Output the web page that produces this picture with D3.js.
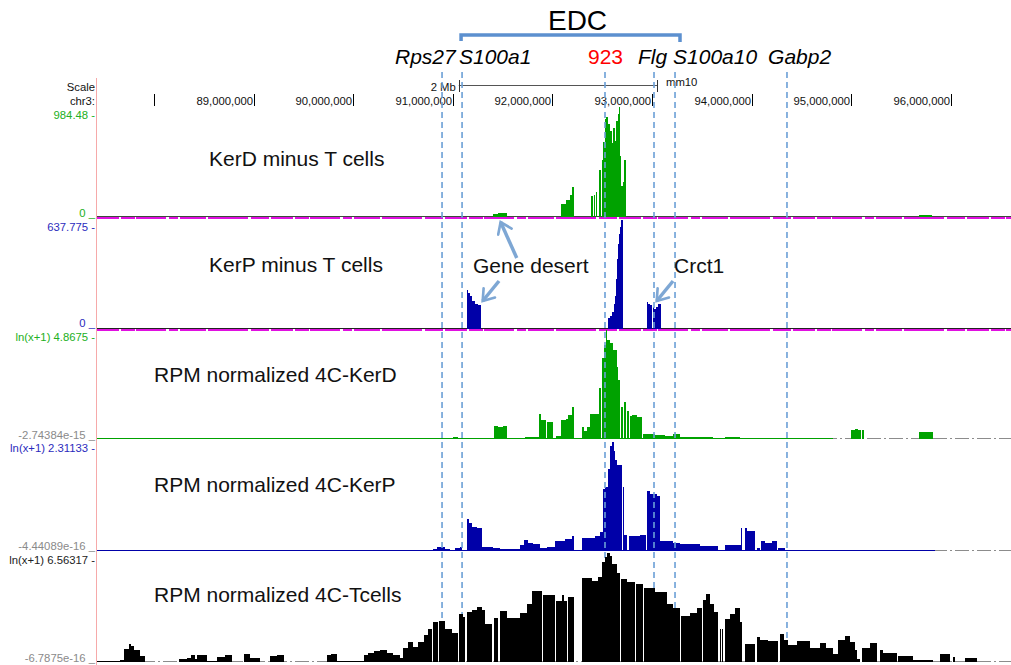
<!DOCTYPE html>
<html>
<head>
<meta charset="utf-8">
<script src="https://cdn.jsdelivr.net/npm/d3@7"></script>
<style>
body { margin: 0; background: #fff; }
svg { display: block; font-family: "Liberation Sans", Arial, Helvetica, sans-serif; }
</style>
</head>
<body>
<div id="graphic"></div>
<script>
// chr3 window shown (Mb)
var viewMb = [87.428, 96.604];
var tickMb = [88, 89, 90, 91, 92, 93, 94, 95, 96];
var tickLabels = ["", "89,000,000", "90,000,000", "91,000,000", "92,000,000",
                  "93,000,000", "94,000,000", "95,000,000", "96,000,000"];

// gene marks (dashed lines) and their labels
var geneNames   = ["Rps27", "S100a1", "923", "Flg", "S100a10", "Gabp2"];
var geneMb      = [90.892, 91.093, 92.528, 93.020, 93.231, 94.355];
var geneLabelMb = [90.420, 91.062, 92.357, 92.859, 93.211, 94.165];
var edcMb = [91.083, 93.281];
var scaleBarMb = [91.06, 93.05];

// [start Mb, end Mb, value]
var kerDMinusT = [
  [91.404,91.454,27],[91.454,91.504,36],[91.504,91.544,32],
  [92.086,92.137,117],[92.137,92.177,154],[92.177,92.197,199],[92.197,92.217,271],
  [92.388,92.408,190],[92.413,92.428,199],[92.438,92.448,226],[92.468,92.488,425],[92.493,92.508,506],
  [92.508,92.523,668],[92.523,92.538,876],[92.538,92.558,894],[92.558,92.578,831],[92.578,92.598,768],
  [92.598,92.613,659],[92.613,92.628,795],[92.628,92.643,677],[92.643,92.658,858],[92.658,92.668,921],
  [92.668,92.678,984],[92.678,92.688,542],[92.688,92.709,280],[92.709,92.719,316],[92.719,92.739,506],
  [95.681,95.812,18]
];
var kerPMinusT = [
  [91.143,91.153,228],[91.153,91.173,211],[91.173,91.193,193],[91.193,91.223,164],[91.223,91.253,146],[91.253,91.283,140],
  [92.558,92.578,64],[92.578,92.598,76],[92.598,92.618,99],[92.618,92.628,146],[92.628,92.638,193],[92.638,92.648,293],
  [92.648,92.658,410],[92.658,92.668,497],[92.668,92.678,556],[92.678,92.688,597],[92.688,92.705,638],
  [92.947,92.960,158],[92.960,92.980,146],[92.980,93.000,140],[93.005,93.020,129],[93.020,93.040,117],
  [93.040,93.061,129],[93.061,93.088,146]
];
var kerD4C = [
  [87.428,94.820,0.005],
  [91.002,91.052,0.07],[91.203,91.394,0.045],
  [91.414,91.454,0.58],[91.454,91.504,0.54],[91.504,91.544,0.58],
  [91.725,91.866,0.07],[91.866,91.886,1.12],[91.886,91.936,0.85],[91.946,92.006,0.76],
  [92.036,92.086,0.13],[92.086,92.137,0.85],[92.137,92.157,0.89],[92.157,92.197,1.07],[92.197,92.212,1.43],
  [92.297,92.317,0.54],[92.317,92.347,0.36],[92.347,92.378,0.54],[92.378,92.468,1.12],[92.468,92.485,2.28],
  [92.495,92.518,3.62],[92.518,92.538,4.20],[92.538,92.551,4.87],[92.551,92.578,4.42],[92.578,92.611,4.29],
  [92.611,92.645,3.97],[92.645,92.661,3.22],[92.661,92.678,2.63],
  [92.688,92.709,1.43],[92.719,92.739,1.65],[92.749,92.769,1.25],[92.779,92.799,1.03],[92.799,92.850,1.07],[92.850,92.900,0.98],
  [92.910,93.031,0.22],[93.031,93.131,0.18],[93.131,93.211,0.13],[93.211,93.281,0.22],[93.281,93.613,0.09],
  [93.733,93.884,0.09],[94.115,94.186,0.045],
  [94.998,95.038,0.40],[95.038,95.068,0.45],[95.068,95.098,0.40],[95.108,95.128,0.40],
  [95.681,95.761,0.31],[95.761,95.822,0.33]
];
var kerP4C = [
  [87.428,95.840,0.005],
  [90.500,90.791,0.02],[90.801,90.842,0.04],[90.842,90.922,0.085],[90.922,90.972,0.04],[90.972,91.022,0.02],
  [91.022,91.072,0.064],[91.072,91.092,0.085],
  [91.143,91.163,0.68],[91.163,91.193,0.59],[91.193,91.243,0.51],[91.243,91.293,0.49],
  [91.293,91.404,0.085],[91.404,91.474,0.064],[91.474,91.574,0.042],[91.574,91.675,0.053],[91.675,91.715,0.13],
  [91.715,91.755,0.23],[91.755,91.805,0.17],[91.805,91.876,0.15],[91.876,91.946,0.064],[91.946,92.026,0.085],
  [92.026,92.127,0.21],[92.127,92.197,0.25],[92.197,92.212,0.32],
  [92.297,92.428,0.28],[92.428,92.478,0.32],[92.478,92.505,0.40],[92.505,92.528,1.32],[92.528,92.558,1.36],
  [92.558,92.578,1.74],[92.578,92.598,2.23],[92.598,92.618,2.31],[92.618,92.633,2.12],[92.633,92.648,1.93],[92.648,92.695,1.82],
  [92.705,92.719,1.36],[92.719,92.749,0.34],[92.769,92.880,0.32],[92.880,92.940,0.34],
  [92.947,92.980,1.27],[92.980,93.051,1.21],[93.051,93.081,1.17],
  [93.081,93.211,0.21],[93.211,93.281,0.17],[93.281,93.482,0.15],[93.482,93.663,0.11],
  [93.733,93.894,0.13],[93.894,93.904,0.49],[93.934,93.954,0.49],[93.954,94.034,0.42],[94.054,94.084,0.064],
  [94.094,94.135,0.21],[94.135,94.205,0.17],[94.205,94.255,0.21],[94.265,94.335,0.064],[94.335,94.787,0.02],
  [95.289,95.390,0.03]
];
var tcell4C = [
  [87.428,87.659,0.005],
  [87.659,87.699,0.12],[87.699,87.749,0.78],[87.749,87.769,1.08],[87.769,87.799,0.96],[87.799,87.860,0.72],[87.860,87.910,0.36],
  [88.251,88.331,0.18],[88.331,88.372,0.24],[88.372,88.412,0.42],[88.412,88.432,0.18],[88.432,88.532,0.42],
  [88.532,88.633,0.005],[88.633,88.713,0.30],[88.713,88.783,0.42],
  [88.904,88.964,0.48],[88.964,89.064,0.24],
  [89.165,89.235,0.36],[89.235,89.305,0.42],
  [89.737,89.777,0.42],[89.777,89.837,0.48],[89.837,90.109,0.005],
  [90.109,90.149,0.42],[90.149,90.209,0.54],[90.209,90.269,0.66],[90.269,90.339,0.72],[90.339,90.400,0.54],
  [90.400,90.470,0.42],[90.470,90.500,0.24],[90.500,90.550,0.84],[90.550,90.601,1.20],[90.601,90.651,0.90],
  [90.651,90.711,1.20],[90.711,90.751,1.63],[90.751,90.791,1.99],[90.801,90.852,2.41],[90.862,90.922,2.47],
  [90.922,90.992,1.99],[90.992,91.052,1.75],[91.062,91.102,2.89],[91.102,91.122,2.71],
  [91.143,91.193,3.01],[91.193,91.243,3.13],[91.243,91.293,3.31],[91.293,91.323,3.13],[91.323,91.394,2.29],
  [91.414,91.454,2.65],[91.474,91.544,3.07],[91.544,91.675,2.65],[91.675,91.745,2.95],[91.745,91.795,3.49],
  [91.795,91.896,4.27],[91.906,92.026,4.03],[92.036,92.096,3.67],[92.096,92.116,4.03],[92.116,92.147,3.67],[92.157,92.217,3.91],
  [92.297,92.398,5.06],[92.398,92.458,4.88],[92.458,92.493,5.12],[92.498,92.528,6.02],[92.528,92.548,6.32],
  [92.548,92.578,6.56],[92.578,92.598,6.38],[92.598,92.648,5.90],[92.648,92.678,5.36],
  [92.688,92.749,5.00],[92.749,92.829,4.82],[92.839,92.910,4.70],[92.920,93.031,4.46],[93.031,93.151,4.21],
  [93.151,93.211,3.49],[93.211,93.281,3.25],
  [93.291,93.381,2.77],[93.381,93.452,2.95],[93.452,93.502,3.25],[93.512,93.542,3.73],[93.542,93.582,4.09],
  [93.582,93.623,3.49],[93.623,93.663,3.01],
  [93.683,93.693,1.99],[93.703,93.713,1.99],[93.733,93.784,2.59],[93.784,93.834,2.89],[93.834,93.884,3.25],[93.884,93.904,2.41],
  [93.934,94.034,1.08],[94.054,94.084,1.51],[94.084,94.165,1.32],[94.165,94.265,1.26],[94.285,94.325,1.69],
  [94.325,94.365,1.32],[94.365,94.456,1.02],[94.456,94.586,1.26],[94.586,94.687,0.84],[94.687,94.747,1.14],
  [94.747,94.817,0.84],[94.817,94.867,0.48],[94.867,94.937,1.32],[94.937,94.988,1.57],[94.988,95.038,1.20],
  [95.038,95.058,0.72],[95.058,95.088,0.18],
  [95.108,95.188,0.84],[95.188,95.259,1.14],[95.289,95.319,0.72],[95.319,95.460,0.54],[95.470,95.621,0.36],[95.621,95.822,0.12],
  [95.892,95.992,0.48],[96.022,96.042,0.30],[96.143,96.263,0.24]
];

var green = "#00a200", blue = "#0000a8", black = "#000000";

var tracks = [
  {title: "KerD minus T cells", data: kerDMinusT, max: 984.48, top: 107, base: 217, color: green,
   topLabel: "984.48 -", botLabel: "0 _", topColor: "#22b022", botColor: "#22b022",
   topY: 118.5, botY: 216.5, tx: 209, ty: 166, minus: true, baseColor: "#3d4a3d"},
  {title: "KerP minus T cells", data: kerPMinusT, max: 637.775, top: 220, base: 329, color: blue,
   topLabel: "637.775 -", botLabel: "0 _", topColor: "#2b2bbd", botColor: "#2b2bbd",
   topY: 230.5, botY: 326.5, tx: 209, ty: 272, minus: true, baseColor: "#222"},
  {title: "RPM normalized 4C-KerD", data: kerD4C, max: 4.8675, top: 330, base: 439, color: green,
   topLabel: "ln(x+1) 4.8675 -", botLabel: "-2.74384e-15 _", topColor: "#22b022", botColor: "#8a8a8a",
   topY: 340.5, botY: 439, tx: 154, ty: 382},
  {title: "RPM normalized 4C-KerP", data: kerP4C, max: 2.31133, top: 442, base: 551, color: blue,
   topLabel: "ln(x+1) 2.31133 -", botLabel: "-4.44089e-16 _", topColor: "#2b2bbd", botColor: "#8a8a8a",
   topY: 451.5, botY: 550, tx: 154, ty: 492},
  {title: "RPM normalized 4C-Tcells", data: tcell4C, max: 6.56317, top: 553, base: 662, color: black,
   topLabel: "ln(x+1) 6.56317 -", botLabel: "-6.7875e-16 _", topColor: "#222", botColor: "#8a8a8a",
   topY: 563.5, botY: 661.5, tx: 154, ty: 602}
];

var W = 1011, H = 665;
var svg = d3.select("#graphic").append("svg")
        .attr("width", W)
        .attr("height", H);

var x = d3.scaleLinear().domain(viewMb).range([97, 1011]);

// arrow marker (open chevron)
svg.append("defs").append("marker")
        .attr("id", "ah")
        .attr("viewBox", "0 0 10 10")
        .attr("refX", 7).attr("refY", 5)
        .attr("markerWidth", 5).attr("markerHeight", 5)
        .attr("orient", "auto")
      .append("path")
        .attr("d", "M1,0.8 L7,5 L1,9.2")
        .attr("fill", "none")
        .attr("stroke", "#7ea7d4")
        .attr("stroke-width", 1.5)
        .attr("stroke-linecap", "round");

// pink left border
svg.append("line")
        .attr("x1", 96.5).attr("x2", 96.5)
        .attr("y1", 78).attr("y2", H)
        .style("stroke", "#f6a9a9");

// header: scale bar and position ruler
var header = svg.append("g").style("font-size", "11.3px").style("fill", "#111");
header.append("text").attr("x", 95).attr("y", 90.5).attr("text-anchor", "end").text("Scale");
header.append("text").attr("x", 95).attr("y", 104.5).attr("text-anchor", "end").text("chr3:");
header.append("text").attr("x", x(scaleBarMb[0]) - 3).attr("y", 90.5).attr("text-anchor", "end").text("2 Mb");
header.append("text").attr("x", x(scaleBarMb[1]) + 9).attr("y", 86).text("mm10");
header.append("line")
        .attr("x1", x(scaleBarMb[0])).attr("x2", x(scaleBarMb[1]))
        .attr("y1", 85.5).attr("y2", 85.5)
        .style("stroke", "#555");
header.selectAll("line.cap").data(scaleBarMb).join("line")
        .attr("class", "cap")
        .attr("x1", d => Math.round(x(d)) + 0.5).attr("x2", d => Math.round(x(d)) + 0.5)
        .attr("y1", 80).attr("y2", 92)
        .style("stroke", "#333");
header.selectAll("line.tick").data(tickMb).join("line")
        .attr("class", "tick")
        .attr("x1", d => Math.round(x(d)) + 0.5).attr("x2", d => Math.round(x(d)) + 0.5)
        .attr("y1", 94).attr("y2", 106)
        .style("stroke", "#000");
header.selectAll("text.tl").data(tickMb).join("text")
        .attr("class", "tl")
        .attr("x", d => Math.round(x(d)) - 1)
        .attr("y", 104.5)
        .attr("text-anchor", "end")
        .text((d, i) => tickLabels[i]);

// EDC bracket
svg.append("path")
        .attr("d", "M" + x(edcMb[0]) + ",41 L" + x(edcMb[0]) + ",35 L" + x(edcMb[1]) + ",35 L" + x(edcMb[1]) + ",42")
        .attr("fill", "none")
        .style("stroke", "#5c90cf")
        .style("stroke-width", 3.5);
svg.append("text")
        .attr("x", (x(edcMb[0]) + x(edcMb[1])) / 2 + 7)
        .attr("y", 30)
        .attr("text-anchor", "middle")
        .style("font-size", "28px")
        .text("EDC");

// gene labels
svg.selectAll("text.gene").data(geneNames).join("text")
        .attr("class", "gene")
        .attr("x", (d, i) => x(geneLabelMb[i]))
        .attr("y", 64)
        .style("font-size", "21px")
        .style("font-style", d => d === "923" ? "normal" : "italic")
        .style("fill", d => d === "923" ? "#ff0000" : "#000")
        .text(d => d);

var dashLayer;

tracks.forEach(function(t, ti) {
  var y = d3.scaleLinear().domain([0, t.max]).range([t.base, t.top]).clamp(true);
  var g = svg.append("g");

  if (ti === 4) {
    // gene lines sit under the T cell track
    dashLayer = svg.insert("g", function() { return g.node(); });
  }

  if (t.minus) {
    g.append("line")
        .attr("x1", 97).attr("x2", W)
        .attr("y1", t.base - 0.5).attr("y2", t.base - 0.5)
        .style("stroke", t.baseColor);
    g.append("line")
        .attr("x1", 97).attr("x2", W)
        .attr("y1", t.base + 1).attr("y2", t.base + 1)
        .style("stroke", "#e010e0")
        .style("stroke-width", 2)
        .style("stroke-dasharray", "22,2,14,1,30,3,9,2,26,2,40,3,18,2");
  } else {
    g.append("line")
        .attr("x1", 97).attr("x2", W)
        .attr("y1", t.base - 0.5).attr("y2", t.base - 0.5)
        .style("stroke", "#8c8c8c")
        .style("stroke-dasharray", "14,3,2,3");
  }

  g.selectAll("rect").data(t.data).join("rect")
        .attr("x", d => x(d[0]))
        .attr("width", d => Math.max(1, x(d[1]) - x(d[0])))
        .attr("y", d => Math.min(y(d[2]), t.base - 1))
        .attr("height", d => Math.max(1, t.base - y(d[2])))
        .attr("shape-rendering", "crispEdges")
        .style("fill", t.color);

  var lab = svg.append("g").style("font-size", "11.3px").attr("text-anchor", "end");
  lab.append("text").attr("x", 95).attr("y", t.topY).style("fill", t.topColor).text(t.topLabel);
  lab.append("text").attr("x", 95).attr("y", t.botY).style("fill", t.botColor).text(t.botLabel);

  svg.append("text")
        .attr("x", t.tx).attr("y", t.ty)
        .style("font-size", "21px")
        .style("fill", "#111")
        .text(t.title);
});

// dashed gene lines
dashLayer.selectAll("line").data(geneMb).join("line")
        .attr("x1", d => x(d)).attr("x2", d => x(d))
        .attr("y1", 72).attr("y2", 662)
        .style("stroke", "#6b9fd6")
        .style("stroke-width", 1.6)
        .style("stroke-dasharray", "6,4");

// annotations
var notes = svg.append("g").style("font-size", "21px").style("fill", "#111");
notes.append("text").attr("x", x(91.203)).attr("y", 273).text("Gene desert");
notes.append("text").attr("x", x(93.221)).attr("y", 273).text("Crct1");

var arrows = [
  [91.642, 258, 91.480, 222],
  [91.464, 281, 91.300, 301],
  [93.211, 281, 93.047, 301]
];
svg.selectAll("line.arrow").data(arrows).join("line")
        .attr("class", "arrow")
        .attr("x1", d => x(d[0])).attr("y1", d => d[1])
        .attr("x2", d => x(d[2])).attr("y2", d => d[3])
        .style("stroke", "#7ea7d4")
        .style("stroke-width", 3.5)
        .attr("marker-end", "url(#ah)");
</script>
</body>
</html>
